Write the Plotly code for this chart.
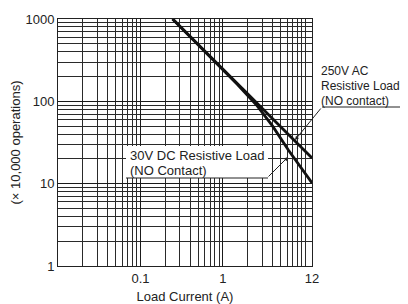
import plotly.graph_objects as go

# Data
ac_current = [0.245, 12]
ac_ops = [1000, 20.5]
dc_current = [0.245, 1.5, 2.6, 4, 6.2, 12]
dc_ops = [1000, 160, 88, 50, 25.6, 10.2]

x_tick_vals = [0.1, 1, 12]
x_tick_text = ["0.1", "1", "12"]
y_tick_vals = [1, 10, 100, 1000]
y_tick_text = ["1", "10", "100", "1000"]

ac_label = ["250V AC", "Resistive Load", "(NO contact)"]
dc_label = ["30V DC Resistive Load", "(NO Contact)"]

x_minor = [m * 10 ** e for e in (-2, -1, 0) for m in range(1, 10)] + [10]
x_minor = [v for v in x_minor if v not in (0.1, 1)]
y_minor = [m * 10 ** e for e in (0, 1, 2) for m in range(2, 10)]

OFF = 8  # default page body margin
W, H = 408 - OFF, 304 - OFF
# plot area in page pixels
L, R, T, B = 58, 312, 19, 266


def px(x):
    return (x - L) / (R - L)


def py(y):
    return (B - y) / (B - T)


fig = go.Figure()
fig.add_trace(go.Scatter(x=ac_current, y=ac_ops, mode="lines",
                         line=dict(color="#111", width=2.8), showlegend=False))
fig.add_trace(go.Scatter(x=dc_current, y=dc_ops, mode="lines",
                         line=dict(color="#111", width=2.8), showlegend=False))

font = dict(family="Liberation Sans, Arial, sans-serif", size=13, color="#222")
font_ac = dict(family="Liberation Sans, Arial, sans-serif", size=12, color="#222")

shapes = [
    dict(type="rect", xref="paper", yref="paper", x0=px(126), x1=px(268),
         y0=py(178), y1=py(146), fillcolor="white", line=dict(width=0), layer="above"),
    dict(type="line", xref="paper", yref="paper", x0=px(126), x1=px(268),
         y0=py(178), y1=py(178), line=dict(color="#222", width=1), layer="above"),
    dict(type="line", xref="paper", yref="paper", x0=px(322), x1=px(407),
         y0=py(107), y1=py(107), line=dict(color="#222", width=1), layer="above"),
]

annotations = []
for i, t in enumerate(ac_label):
    annotations.append(dict(xref="paper", yref="paper", x=px(319), y=py(71 + 15 * i),
                            xanchor="left", yanchor="middle", text=t, showarrow=False,
                            font=font_ac))
for i, t in enumerate(dc_label):
    annotations.append(dict(xref="paper", yref="paper", x=px(128), y=py(155 + 15 * i),
                            xanchor="left", yanchor="middle", text=t, showarrow=False,
                            font=font))
annotations += [
    dict(xref="paper", yref="paper", x=px(295), y=py(140), ax=27, ay=-33, text="",
         showarrow=True, arrowhead=2, arrowsize=0.8, arrowwidth=1, arrowcolor="#222"),
    dict(xref="paper", yref="paper", x=px(288), y=py(157), ax=-21, ay=21, text="",
         showarrow=True, arrowhead=2, arrowsize=0.8, arrowwidth=1, arrowcolor="#222"),
]

fig.update_layout(
    width=W, height=H,
    margin=dict(l=L - OFF, r=408 - R, t=T - OFF, b=304 - B, autoexpand=False),
    paper_bgcolor="white", plot_bgcolor="white",
    font=font,
    shapes=shapes, annotations=annotations,
    xaxis=dict(type="log", range=[-2, 1.0792], tickvals=x_tick_vals, ticktext=x_tick_text,
               showgrid=True, gridcolor="#1a1a1a", gridwidth=1, automargin=False,
               minor=dict(tickvals=x_minor, showgrid=True, gridcolor="#2a2a2a", gridwidth=1),
               showline=True, linecolor="#222", linewidth=1, mirror=True,
               ticks="", zeroline=False, tickfont=font,
               title=dict(text="Load Current (A)", font=font, standoff=8)),
    yaxis=dict(type="log", range=[0, 3], tickvals=y_tick_vals, ticktext=y_tick_text,
               showgrid=True, gridcolor="#1a1a1a", gridwidth=1, automargin=False,
               minor=dict(tickvals=y_minor, showgrid=True, gridcolor="#2a2a2a", gridwidth=1),
               showline=True, linecolor="#222", linewidth=1, mirror=True,
               ticks="", zeroline=False, tickfont=font,
               title=dict(text="(× 10,000 operations)", font=font, standoff=10)),
)

fig.write_html("out.html")
